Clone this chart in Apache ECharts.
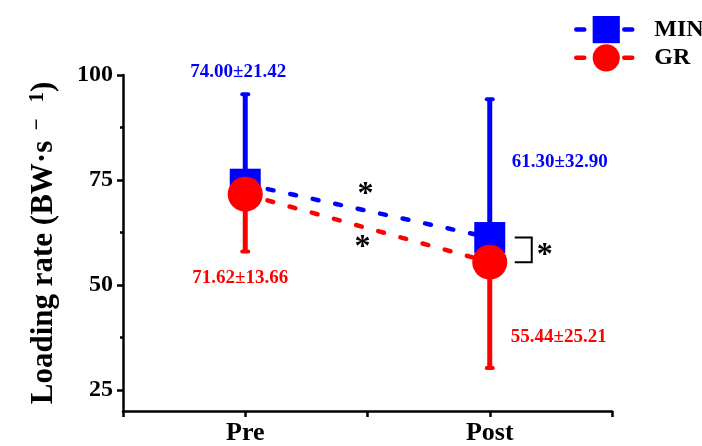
<!DOCTYPE html>
<html>
<head>
<meta charset="utf-8">
<script src="https://cdn.jsdelivr.net/npm/echarts@6/dist/echarts.min.js"></script>
<style>
html,body{margin:0;padding:0;background:#fff}
#main{width:702px;height:446px}
</style>
</head>
<body>
<div id="main"></div>
<script>
var phases = ['Pre', 'Post'];
var minMean = [74.00, 61.30];
var minSd = [21.42, 32.90];
var grMean = [71.62, 55.44];
var grSd = [13.66, 25.21];
var yTicks = [25, 50, 75, 100];
var yMinorTicks = [37.5, 62.5, 87.5];

var FONT = '"Liberation Serif", "Times New Roman", serif';
var BLUE = '#0000ff', RED = '#ff0000';

// Pre sits at 1, Post at 3 on a 0..4 axis
function xOf(i) { return i * 2 + 1; }
function pts(means) { return means.map(function (m, i) { return [xOf(i), m]; }); }
function bars(means, sds) { return means.map(function (m, i) { return [xOf(i), m, sds[i]]; }); }

// label placement per point: [from ('end' or 'mean'), dx, dy, align]
var minLab = [['end', -7, -22, 'center'], ['mean', 22, -75, 'left']];
var grLab = [['end', -5, 27, 'center'], ['mean', 21, 75, 'left']];

function errItem(color, dir, labs) {
  return function (params, api) {
    var x = api.value(0), m = api.value(1), sd = api.value(2);
    var p0 = api.coord([x, m]);
    var p1 = api.coord([x, m + dir * sd]);
    var l = labs[params.dataIndex];
    var ref = l[0] === 'end' ? p1 : p0;
    return {
      type: 'group',
      children: [
        { type: 'line', shape: { x1: p0[0], y1: p0[1], x2: p1[0], y2: p1[1] },
          style: { stroke: color, lineWidth: 5 } },
        { type: 'line', shape: { x1: p1[0] - 3, y1: p1[1], x2: p1[0] + 3, y2: p1[1] },
          style: { stroke: color, lineWidth: 4, lineCap: 'round' } },
        { type: 'text', x: ref[0] + l[1], y: ref[1] + l[2],
          style: { text: m.toFixed(2) + '±' + sd.toFixed(2), fill: color,
            font: 'bold 19px ' + FONT, align: l[3], verticalAlign: 'middle' } }
      ]
    };
  };
}

function sigItem(params, api) {
  var starFont = 'bold 32px ' + FONT;
  var bPre = api.coord([xOf(0), minMean[0]]), bPost = api.coord([xOf(1), minMean[1]]);
  var rPre = api.coord([xOf(0), grMean[0]]), rPost = api.coord([xOf(1), grMean[1]]);
  var bMid = [(bPre[0] + bPost[0]) / 2, (bPre[1] + bPost[1]) / 2];
  var rMid = [(rPre[0] + rPost[0]) / 2, (rPre[1] + rPost[1]) / 2];
  var bx = bPost[0];
  return {
    type: 'group',
    children: [
      { type: 'text', x: bMid[0] - 2, y: bMid[1] - 16,
        style: { text: '*', font: starFont, fill: '#000', align: 'center', verticalAlign: 'middle' } },
      { type: 'text', x: rMid[0] - 5, y: rMid[1] + 20,
        style: { text: '*', font: starFont, fill: '#000', align: 'center', verticalAlign: 'middle' } },
      { type: 'polyline',
        shape: { points: [[bx + 25, bPost[1]], [bx + 42, bPost[1]], [bx + 42, rPost[1]], [bx + 25, rPost[1]]] },
        style: { stroke: '#000', lineWidth: 2, fill: 'none' } },
      { type: 'text', x: bx + 55, y: (bPost[1] + rPost[1]) / 2 + 6,
        style: { text: '*', font: starFont, fill: '#000', align: 'center', verticalAlign: 'middle' } }
    ]
  };
}

var axisBlack = { color: '#000', width: 2.5 };
var chart = echarts.init(document.getElementById('main'));
chart.setOption({
  animation: false,
  grid: { left: 123, right: 90, top: 75, bottom: 35 },
  legend: {
    data: ['MIN', 'GR'], orient: 'vertical', left: 569, top: 11,
    itemWidth: 60, itemHeight: 34, itemGap: 1,
    lineStyle: { type: [8, 40], width: 4.5, cap: 'round' },
    textStyle: { fontFamily: FONT, fontWeight: 'bold', fontSize: 24, color: '#000', padding: [0, 0, 0, 13] }
  },
  xAxis: {
    type: 'value', min: 0, max: 4, interval: 1,
    axisLine: { onZero: false, lineStyle: axisBlack },
    axisTick: { show: true, length: 6, lineStyle: axisBlack },
    axisLabel: {
      margin: 9, fontFamily: FONT, fontWeight: 'bold', fontSize: 26, color: '#000',
      formatter: function (v) { return phases[(v - 1) / 2] || ''; }
    },
    splitLine: { show: false }
  },
  yAxis: [{
    type: 'value', min: 20, max: 100, position: 'left',
    axisLine: { show: true, lineStyle: axisBlack },
    axisTick: { show: true, customValues: yTicks, length: 6, lineStyle: axisBlack },
    axisLabel: { customValues: yTicks, margin: 10, fontFamily: FONT, fontWeight: 'bold', fontSize: 24, color: '#000' },
    splitLine: { show: false },
    name: 'Loading rate (BW·s{sup|  −   1})', nameLocation: 'middle', nameGap: 62, nameRotate: 90,
    nameTextStyle: {
      fontFamily: FONT, fontWeight: 'bold', fontSize: 31, color: '#000', lineHeight: 34,
      rich: { sup: { fontFamily: FONT, fontWeight: 'bold', fontSize: 21, color: '#000', verticalAlign: 'top', lineHeight: 34 } }
    }
  }, {
    type: 'value', min: 20, max: 100, position: 'left', offset: 0,
    axisLine: { show: false },
    axisTick: { show: true, customValues: yMinorTicks, length: 3, lineStyle: axisBlack },
    axisLabel: { show: false },
    splitLine: { show: false }
  }],
  series: [
    { type: 'custom', renderItem: errItem(BLUE, 1, minLab), data: bars(minMean, minSd), clip: false, z: 2 },
    { name: 'MIN', type: 'line', data: pts(minMean), symbol: 'rect', symbolSize: 31,
      lineStyle: { color: BLUE, width: 4.5, type: [6, 17], cap: 'round' }, itemStyle: { color: BLUE }, z: 3 },
    { type: 'custom', renderItem: errItem(RED, -1, grLab), data: bars(grMean, grSd), clip: false, z: 4 },
    { name: 'GR', type: 'line', data: pts(grMean), symbol: 'circle', symbolSize: 35,
      lineStyle: { color: RED, width: 4.5, type: [6, 17], cap: 'round' }, itemStyle: { color: RED }, z: 5 },
    { type: 'custom', renderItem: sigItem, data: [[0, 0]], clip: false, z: 6, silent: true }
  ]
});
</script>
</body>
</html>
